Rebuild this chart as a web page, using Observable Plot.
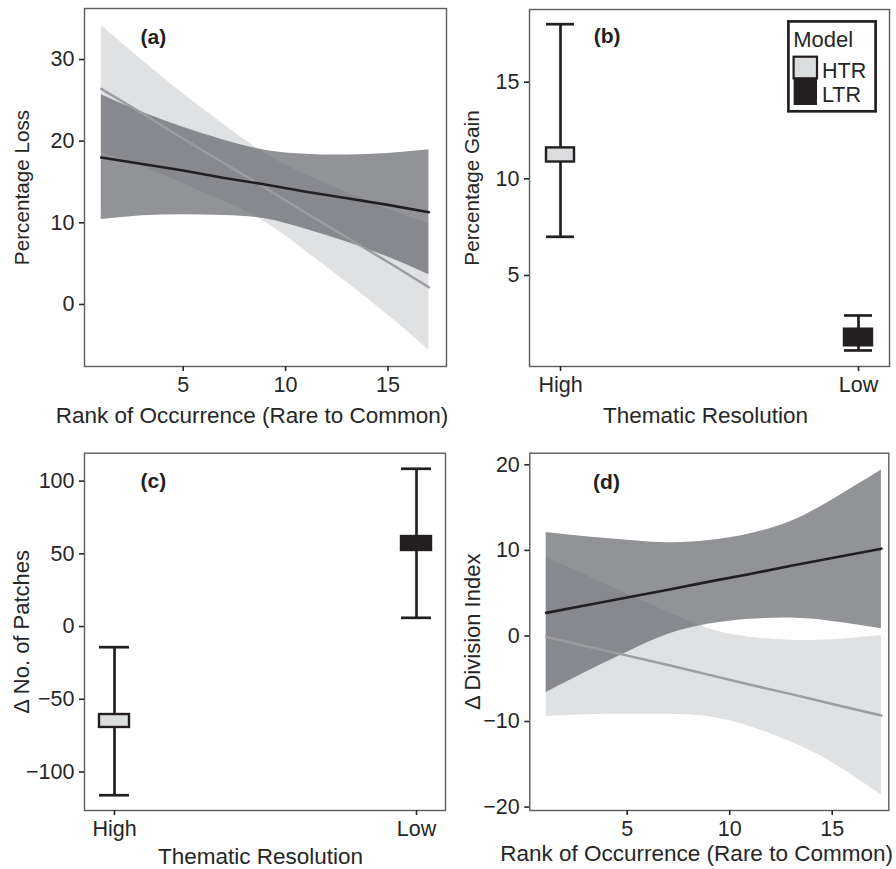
<!DOCTYPE html>
<html>
<head>
<meta charset="utf-8">
<script src="https://cdn.jsdelivr.net/npm/d3@7"></script>
<script src="https://cdn.jsdelivr.net/npm/@observablehq/plot@0.6"></script>
<style>
  body { margin: 0; background: #fff; }
  #fig { position: relative; width: 896px; height: 869px; overflow: hidden; background: #fff;
         font-family: "Liberation Sans", Arial, sans-serif; }
  .panel { position: absolute; }
  .panel svg { overflow: visible; }
</style>
</head>
<body>
<div id="fig"></div>
<script>
// ---------------- data ----------------
// (a) Percentage loss vs rank of occurrence
const rankA = [1, 3, 5, 7, 9, 11, 13, 15, 17];
const lossHtrFit   = [26.4, 23.4, 20.3, 17.3, 14.3, 11.2, 8.2, 5.2, 2.1];
const lossHtrLower = [18.6, 16.9, 14.8, 12.6, 10.1, 6.5, 2.7, -1.3, -5.6];
const lossHtrUpper = [34.2, 29.9, 25.8, 22.0, 18.5, 15.9, 13.7, 11.7, 9.9];
const lossLtrFit   = [18.0, 17.2, 16.4, 15.5, 14.7, 13.8, 13.0, 12.2, 11.3];
const lossLtrLower = [10.4, 10.85, 11.0, 10.9, 10.5, 9.2, 7.65, 5.8, 3.65];
const lossLtrUpper = [25.7, 23.55, 21.7, 20.1, 18.9, 18.4, 18.3, 18.5, 18.95];

// (d) Delta division index vs rank of occurrence
const rankD = [1.05, 3, 5, 7, 9, 11, 13, 15, 17.4];
const divHtrFit   = [-0.1, -1.2, -2.3, -3.4, -4.55, -5.7, -6.8, -7.95, -9.3];
const divHtrLower = [-9.4, -9.2, -9.15, -9.15, -9.45, -10.6, -12.4, -14.8, -18.6];
const divHtrUpper = [9.2, 7.1, 4.9, 2.8, 0.85, -0.15, -0.5, -0.45, 0.05];
const divLtrFit   = [2.7, 3.6, 4.5, 5.4, 6.35, 7.25, 8.2, 9.1, 10.2];
const divLtrLower = [-6.6, -4.2, -1.9, 0.2, 1.4, 1.95, 2.1, 1.7, 0.85];
const divLtrUpper = [12.1, 11.6, 11.2, 10.9, 11.15, 11.95, 13.4, 15.9, 19.4];

// (b) and (c) by thematic resolution
const resolution = ["High", "Low"];
const models = ["HTR", "LTR"];
const gainLower    = [7.0, 1.12];
const gainUpper    = [18.0, 2.93];
const gainBoxLower = [10.87, 1.36];
const gainBoxUpper = [11.6, 2.22];
const patchLower    = [-116.0, 6.0];
const patchUpper    = [-14.2, 108.5];
const patchBoxLower = [-69.4, 52.3];
const patchBoxUpper = [-60.5, 61.9];

// tick values and titles
const ticksA = [0, 10, 20, 30];
const ticksB = [5, 10, 15];
const ticksC = [-100, -50, 0, 50, 100];
const ticksD = [-20, -10, 0, 10, 20];
const ticksRank = [5, 10, 15];
const titleRank = "Rank of Occurrence (Rare to Common)";
const titleRes = "Thematic Resolution";

// ---------------- style ----------------
const FONT = "'Liberation Sans', Arial, sans-serif";
const INK = "#231f20";
const TEXT = "#262626";
const FRAME = "#5c5c5c";
const LIGHT = "#e0e1e3";
const DARK = "#5f6065";
const DARK_OPACITY = 0.68;
const GREYLINE = "#9c9da0";
const modelFill = ["#dcdddf", INK];

const trend = (xs, fit, lo, hi) => xs.map((x, i) => ({rank: x, fit: fit[i], lo: lo[i], hi: hi[i]}));
const cat = (lo, hi, blo, bhi) => resolution.map((r, i) => ({res: r, model: models[i], lo: lo[i], hi: hi[i], blo: blo[i], bhi: bhi[i]}));

const fig = document.getElementById("fig");
function place(node, left, top) {
  const d = document.createElement("div");
  d.className = "panel";
  d.style.left = left + "px";
  d.style.top = top + "px";
  d.appendChild(node);
  fig.appendChild(d);
}

function axes(ticksX, ticksY, numericX) {
  const common = {tickSize: 5, tickPadding: 5, label: null, color: TEXT, strokeWidth: 1.6, fontSize: 21.5};
  return [
    numericX ? Plot.axisX({...common, ticks: ticksX, tickFormat: d3.format("d")}) : Plot.axisX({...common}),
    Plot.axisY({...common, ticks: ticksY, tickFormat: d3.format("d")})
  ];
}

function labels(panel, pdx, pdy, xTitle, xdx, xdy, yTitle, ydx, ySize) {
  return [
    Plot.text([panel], {frameAnchor: "top-left", dx: pdx, dy: pdy, textAnchor: "start", lineAnchor: "middle",
                        fontWeight: "bold", fontSize: 21, fill: INK}),
    Plot.text([xTitle], {frameAnchor: "bottom", dx: xdx, dy: xdy, textAnchor: "middle", lineAnchor: "middle",
                         fontSize: 22.5, fill: TEXT}),
    Plot.text([yTitle], {frameAnchor: "left", dx: ydx, rotate: -90, textAnchor: "middle", lineAnchor: "middle",
                         fontSize: ySize, fill: TEXT})
  ];
}

function trendPanel({htr, ltr, xDomain, yDomain, yTicks, mL, mR, mT, mB, w, h, lab}) {
  return Plot.plot({
    width: w, height: h,
    marginLeft: mL, marginRight: mR, marginTop: mT, marginBottom: mB,
    style: {fontFamily: FONT, fontSize: "21.5px", background: "transparent", overflow: "visible"},
    x: {domain: xDomain, label: null},
    y: {domain: yDomain, label: null},
    marks: [
      Plot.areaY(htr, {x: "rank", y1: "lo", y2: "hi", fill: LIGHT, curve: "natural"}),
      Plot.areaY(ltr, {x: "rank", y1: "lo", y2: "hi", fill: DARK, fillOpacity: DARK_OPACITY, curve: "natural"}),
      Plot.line(htr, {x: "rank", y: "fit", stroke: GREYLINE, strokeWidth: 2.5}),
      Plot.line(ltr, {x: "rank", y: "fit", stroke: INK, strokeWidth: 2.6}),
      Plot.frame({stroke: FRAME, strokeWidth: 1.4}),
      ...axes(ticksRank, yTicks, true),
      ...lab
    ]
  });
}

function catPanel({data, yDomain, yTicks, mL, mR, mT, mB, w, h, pi, po, lab}) {
  return Plot.plot({
    width: w, height: h,
    marginLeft: mL, marginRight: mR, marginTop: mT, marginBottom: mB,
    style: {fontFamily: FONT, fontSize: "21.5px", background: "transparent", overflow: "visible"},
    x: {type: "band", domain: resolution, paddingInner: pi, paddingOuter: po, align: 0.5, label: null},
    y: {domain: yDomain, label: null},
    color: {domain: models, range: modelFill},
    marks: [
      Plot.ruleX(data, {x: "res", y1: "lo", y2: "hi", stroke: INK, strokeWidth: 2.7}),
      Plot.tickY(data, {x: "res", y: "lo", stroke: INK, strokeWidth: 2.7}),
      Plot.tickY(data, {x: "res", y: "hi", stroke: INK, strokeWidth: 2.7}),
      Plot.barY(data, {x: "res", y1: "blo", y2: "bhi", fill: "model", stroke: INK, strokeWidth: 2.4}),
      Plot.frame({stroke: FRAME, strokeWidth: 1.4}),
      ...axes(null, yTicks, false),
      ...lab
    ]
  });
}

// (a)
place(trendPanel({
  htr: trend(rankA, lossHtrFit, lossHtrLower, lossHtrUpper),
  ltr: trend(rankA, lossLtrFit, lossLtrLower, lossLtrUpper),
  xDomain: [0.18, 17.86], yDomain: [-7.6, 36.25], yTicks: ticksA,
  w: 448, h: 430, mL: 84, mR: 2, mT: 8, mB: 64,
  lab: labels("(a)", 56, 28.5, titleRank, -13.5, 49, "Percentage Loss", -62.3, 20.7)
}), 0, 0);

// (b)
place(catPanel({
  data: cat(gainLower, gainUpper, gainBoxLower, gainBoxUpper),
  yDomain: [0.29, 18.76], yTicks: ticksB,
  w: 448, h: 430, mL: 81, mR: 7, mT: 9, mB: 64,
  pi: 0.9075, po: 0.0572,
  lab: labels("(b)", 64.3, 27, titleRes, -4, 49, "Percentage Gain", -57.3, 20.7)
}), 448, 0);

// (c)
place(catPanel({
  data: cat(patchLower, patchUpper, patchBoxLower, patchBoxUpper),
  yDomain: [-126.5, 119.2], yTicks: ticksC,
  w: 448, h: 439, mL: 84, mR: 3, mT: 22.7, mB: 59,
  pi: 0.9007, po: 0.048,
  lab: labels("(c)", 56, 28, titleRes, -4.5, 46.7, "\u0394 No. of Patches", -62.3, 22)
}), 0, 430);

// (d)
place(trendPanel({
  htr: trend(rankD, divHtrFit, divHtrLower, divHtrUpper),
  ltr: trend(rankD, divLtrFit, divLtrLower, divLtrUpper),
  xDomain: [0.25, 17.76], yDomain: [-20.4, 21.36], yTicks: ticksD,
  w: 448, h: 439, mL: 81.3, mR: 7.7, mT: 22.7, mB: 59,
  lab: labels("(d)", 63.3, 29, titleRank, -12.7, 43.3, "\u0394 Division Index", -57.3, 22)
}), 448, 430);

// legend (inside panel b)
const ns = "http://www.w3.org/2000/svg";
const lg = document.createElementNS(ns, "svg");
lg.setAttribute("width", 92); lg.setAttribute("height", 95);
lg.style.position = "absolute"; lg.style.left = "786.7px"; lg.style.top = "20px";
lg.style.fontFamily = FONT;
function el(tag, attrs, text) {
  const e = document.createElementNS(ns, tag);
  for (const k in attrs) e.setAttribute(k, attrs[k]);
  if (text != null) e.textContent = text;
  lg.appendChild(e);
  return e;
}
el("rect", {x: 1.4, y: 1.4, width: 87.2, height: 89.9, fill: "#fff", stroke: INK, "stroke-width": 2.7});
el("text", {x: 6.3, y: 26.7, "font-size": 22, fill: TEXT}, "Model");
const keyTop = [36.7, 58.3], keyH = [21.6, 26.7], labBase = [58.3, 81.7];
models.forEach((m, i) => {
  el("rect", {x: 6.6, y: keyTop[i], width: 23.4, height: keyH[i], fill: modelFill[i],
              stroke: INK, "stroke-width": i === 0 ? 2.2 : 0});
  el("text", {x: 35, y: labBase[i], "font-size": 21.5, fill: TEXT}, m);
});
fig.appendChild(lg);
</script>
</body>
</html>
